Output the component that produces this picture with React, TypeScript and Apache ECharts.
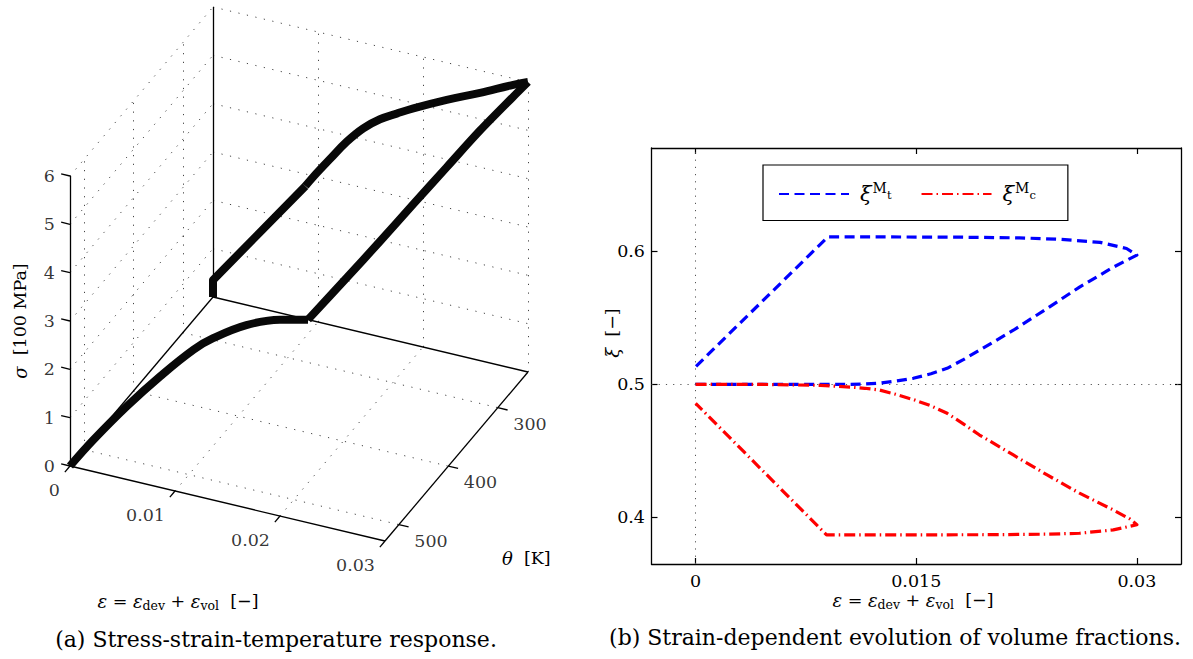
import { useEffect, useRef } from "react";
import * as echarts from "echarts";

// ---------- Panel (a): stress-strain-temperature box ----------
const strainRange = [0, 0.03];
const tempRange = [239, 528]; // back .. front of the box
const stressRange = [0, 6];
const strainTicks = [0, 0.01, 0.02, 0.03];
const tempTicks = [300, 400, 500];
const stressTicks = [0, 1, 2, 3, 4, 5, 6];

// Loading branch: strain [-], temperature [K], stress [100 MPa]
const loadStrain = [0, 0.00153, 0.00371, 0.0059, 0.00808, 0.00939, 0.01157, 0.01376, 0.0156, 0.01813, 0.0203, 0.02249, 0.02467, 0.02686, 0.02904, 0.03];
const loadTemp = [528, 513, 492, 471, 450, 438, 417, 396, 378, 353, 333, 311, 290, 269, 248, 239];
const loadStress = [0, 0.44, 0.99, 1.47, 1.88, 2.04, 2.17, 2.14, 2.02, 2.72, 3.33, 3.96, 4.58, 5.2, 5.76, 6.0];
const loadKink = 8; // onset of the hardening branch

// Unloading branch
const unloadStrain = [0.03, 0.0286, 0.02543, 0.02226, 0.01908, 0.0175, 0.0159, 0.01431, 0.01273, 0.01114, 0.00955, 0.0088, 0, 0];
const unloadTemp = [239, 239, 239, 239, 239, 239, 239, 239, 239, 239, 239, 239, 239, 239];
const unloadStress = [6.0, 5.87, 5.54, 5.23, 4.89, 4.7, 4.5, 4.23, 3.87, 3.43, 2.98, 2.75, 0.35, 0];
const unloadKink = 11; // start of the linear unloading branch

// ---------- Panel (b): volume fractions ----------
const mtStrain = [0, 0.004, 0.008, 0.0105, 0.0115, 0.0125, 0.0136, 0.0148, 0.016, 0.0171, 0.0182, 0.0193, 0.0216, 0.0239, 0.0261, 0.0284, 0.03, 0.0293, 0.0275, 0.0248, 0.022, 0.018, 0.0125, 0.009, 0];
const mtFrac = [0.5, 0.5, 0.5, 0.5, 0.5002, 0.5008, 0.5024, 0.5045, 0.5079, 0.512, 0.5185, 0.5256, 0.5406, 0.557, 0.573, 0.588, 0.597, 0.602, 0.6066, 0.6089, 0.61, 0.6105, 0.6107, 0.6108, 0.5132];
const mcStrain = [0, 0.004, 0.0085, 0.0107, 0.0115, 0.0125, 0.0136, 0.0148, 0.016, 0.0171, 0.0182, 0.0193, 0.0216, 0.0239, 0.0261, 0.0284, 0.0295, 0.03, 0.0284, 0.0261, 0.0239, 0.02, 0.015, 0.0089, 0];
const mcFrac = [0.5, 0.5, 0.4992, 0.4978, 0.497, 0.4957, 0.4925, 0.4885, 0.4838, 0.4782, 0.4703, 0.4619, 0.4469, 0.4319, 0.4182, 0.4056, 0.399, 0.3945, 0.3906, 0.3881, 0.3874, 0.387, 0.3869, 0.3869, 0.4857];
const fracStrainTicks = [0, 0.015, 0.03];
const fracTicks = [0.4, 0.5, 0.6];
const fracStrainRange = [-0.003, 0.033];
const fracRange = [0.365, 0.6775];

const FONT = "'DejaVu Serif', 'Liberation Serif', serif";
const TICK_SIZE = 17.5;

// Oblique view of the 3D box: origin and screen vectors of the three unit edges
const VIEW = { ox: 70, oy: 466, ex: 315, ey: 75, tx: 143, ty: -169, sz: 290 };

function project(eps: number, temp: number, sig: number): number[] {
  const e = (eps - strainRange[0]) / (strainRange[1] - strainRange[0]);
  const t = (tempRange[1] - temp) / (tempRange[1] - tempRange[0]);
  const s = (sig - stressRange[0]) / (stressRange[1] - stressRange[0]);
  return [VIEW.ox + e * VIEW.ex + t * VIEW.tx, VIEW.oy + e * VIEW.ey + t * VIEW.ty - s * VIEW.sz];
}

function pathPoints(eps: number[], temp: number[], sig: number[], from: number, to: number) {
  const pts: number[][] = [];
  for (let i = from; i <= to; i++) pts.push(project(eps[i], temp[i], sig[i]));
  return pts;
}

function buildOption() {
  const [e0, e1] = strainRange;
  const [tB, tF] = tempRange;
  const [s0, s1] = stressRange;
  const seg = (a: number[], b: number[]) => ({ coords: [a, b] });

  // dotted grid on the three back planes
  const dotted: any[] = [];
  stressTicks.filter((s) => s > s0).forEach((s) => {
    dotted.push(seg(project(e0, tF, s), project(e0, tB, s)));
    dotted.push(seg(project(e0, tB, s), project(e1, tB, s)));
  });
  tempTicks.forEach((t) => {
    dotted.push(seg(project(e0, t, s0), project(e0, t, s1)));
    dotted.push(seg(project(e0, t, s0), project(e1, t, s0)));
  });
  strainTicks.filter((e) => e > e0).forEach((e) => {
    dotted.push(seg(project(e, tB, s0), project(e, tB, s1)));
    if (e < e1) dotted.push(seg(project(e, tF, s0), project(e, tB, s0)));
  });

  // solid axes, back edges and ticks
  const solid: any[] = [
    seg(project(e0, tF, s0), project(e0, tF, s1)),
    seg(project(e0, tF, s0), project(e1, tF, s0)),
    seg(project(e1, tF, s0), project(e1, tB, s0)),
    seg(project(e0, tF, s0), project(e0, tB, s0)),
    seg(project(e0, tB, s0), project(e1, tB, s0)),
    seg(project(e0, tB, s0), project(e0, tB, s1)),
  ];
  stressTicks.forEach((s) => solid.push(seg(project(e0, tF, s), project(e0 - 0.028 * (e1 - e0), tF, s))));
  strainTicks.forEach((e) => solid.push(seg(project(e, tF, s0), project(e, tF + 0.036 * (tF - tB), s0))));
  tempTicks.forEach((t) => solid.push(seg(project(e1, t, s0), project(e1 + 0.031 * (e1 - e0), t, s0))));

  const responseCurve = (name: string, data: number[][], smooth: number) => ({
    type: "line",
    name,
    xAxisIndex: 0,
    yAxisIndex: 0,
    symbol: "none",
    silent: true,
    smooth,
    z: 3,
    lineStyle: { color: "#080808", width: 8, join: "round", cap: "butt" },
    data,
  });

  const tickLabelSeries = (items: { pos: number[]; text: string }[], offset: number[], align: string) => ({
    type: "scatter",
    xAxisIndex: 0,
    yAxisIndex: 0,
    symbolSize: 0.1,
    silent: true,
    itemStyle: { color: "rgba(0,0,0,0)" },
    z: 5,
    label: {
      show: true,
      position: "inside",
      offset,
      align,
      verticalAlign: "middle",
      fontFamily: FONT,
      fontSize: TICK_SIZE,
      color: "#000",
      formatter: (p: any) => p.data.text,
    },
    data: items.map((it) => ({ value: it.pos, text: it.text })),
  });

  const mathRich = {
    i: { fontStyle: "italic", fontFamily: FONT, fontSize: 18, fill: "#000", color: "#000" },
    sub: { fontFamily: FONT, fontSize: 12.5, padding: [8, 0, 0, 0], fill: "#000", color: "#000" },
  };
  const strainTitle = "{i|ε} = {i|ε}{sub|dev} + {i|ε}{sub|vol}  [−]";

  const textEl = (x: number, y: number, text: string, size: number, align = "center", rotation = 0) => ({
    type: "text",
    x,
    y,
    rotation,
    silent: true,
    style: {
      text,
      fontFamily: FONT,
      fontSize: size,
      fill: "#000",
      align,
      verticalAlign: "middle",
      rich: mathRich,
    },
  });

  const axisCommon = {
    axisLine: { show: true, onZero: false, lineStyle: { color: "#000", width: 1.3 } },
    splitLine: { show: false },
  };
  const tickStyle = { color: "#000", width: 1.2 };

  return {
    animation: false,
    backgroundColor: "#fff",
    grid: [
      { left: 0, top: 0, width: 600, height: 659 },
      { left: 651.5, top: 148, width: 529.5, height: 416 },
    ],
    xAxis: [
      { gridIndex: 0, type: "value", min: 0, max: 600, show: false },
      {
        gridIndex: 1,
        type: "value",
        position: "bottom",
        min: fracStrainRange[0],
        max: fracStrainRange[1],
        ...axisCommon,
        axisTick: { show: true, inside: true, length: 6, customValues: fracStrainTicks, lineStyle: tickStyle },
        axisLabel: { show: true, customValues: fracStrainTicks, margin: 8, formatter: (v: number) => String(v), fontFamily: FONT, fontSize: TICK_SIZE, color: "#000" },
      },
      {
        gridIndex: 1,
        type: "value",
        position: "top",
        min: fracStrainRange[0],
        max: fracStrainRange[1],
        ...axisCommon,
        axisTick: { show: true, inside: true, length: 6, customValues: fracStrainTicks, lineStyle: tickStyle },
        axisLabel: { show: false },
      },
    ],
    yAxis: [
      { gridIndex: 0, type: "value", min: 0, max: 659, inverse: true, show: false },
      {
        gridIndex: 1,
        type: "value",
        position: "left",
        min: fracRange[0],
        max: fracRange[1],
        ...axisCommon,
        axisTick: { show: true, inside: true, length: 6, customValues: fracTicks, lineStyle: tickStyle },
        axisLabel: { show: true, customValues: fracTicks, margin: 6.5, formatter: (v: number) => String(v), fontFamily: FONT, fontSize: TICK_SIZE, color: "#000" },
      },
      {
        gridIndex: 1,
        type: "value",
        position: "right",
        min: fracRange[0],
        max: fracRange[1],
        ...axisCommon,
        axisTick: { show: true, inside: true, length: 6, customValues: fracTicks, lineStyle: tickStyle },
        axisLabel: { show: false },
      },
    ],
    legend: {
      data: ["ξMt", "ξMc"],
      left: 763,
      top: 165,
      orient: "horizontal",
      itemWidth: 70,
      itemHeight: 14,
      itemGap: 29,
      padding: [16, 32, 16, 15],
      backgroundColor: "#fff",
      borderColor: "#000",
      borderWidth: 1.2,
      borderRadius: 0,
      selectedMode: false,
      itemStyle: { opacity: 0, borderWidth: 0 },
      formatter: (name: string) => (name === "ξMt" ? "{x|ξ}{s|M}{ss|t}" : "{x|ξ}{s|M}{ss|c}"),
      textStyle: {
        fontFamily: FONT,
        fontSize: 20,
        color: "#000",
        rich: {
          x: { fontFamily: FONT, fontSize: 21, fontStyle: "italic", color: "#000", padding: [0, 0, 0, 6] },
          s: { fontFamily: FONT, fontSize: 14, color: "#000", padding: [0, 0, 12, 1] },
          ss: { fontFamily: FONT, fontSize: 11.5, color: "#000", padding: [2, 0, 0, 0] },
        },
      },
    },
    series: [
      {
        type: "lines",
        coordinateSystem: "cartesian2d",
        xAxisIndex: 0,
        yAxisIndex: 0,
        silent: true,
        z: 1,
        data: dotted,
        lineStyle: { color: "#444", width: 1, type: [1.2, 7.5], opacity: 1 },
      },
      {
        type: "lines",
        coordinateSystem: "cartesian2d",
        xAxisIndex: 0,
        yAxisIndex: 0,
        silent: true,
        z: 2,
        data: solid,
        lineStyle: { color: "#000", width: 1.3, opacity: 1 },
      },
      responseCurve("loading", pathPoints(loadStrain, loadTemp, loadStress, 0, loadKink), 0.4),
      responseCurve("hardening", pathPoints(loadStrain, loadTemp, loadStress, loadKink, loadStrain.length - 1), 0.3),
      responseCurve("unloading", pathPoints(unloadStrain, unloadTemp, unloadStress, 0, unloadKink), 0.4),
      responseCurve("release", pathPoints(unloadStrain, unloadTemp, unloadStress, unloadKink, unloadStrain.length - 1), 0),
      tickLabelSeries(stressTicks.map((s) => ({ pos: project(e0, tF, s), text: String(s) })), [-15, 0], "right"),
      tickLabelSeries(strainTicks.map((e) => ({ pos: project(e, tF, s0), text: String(e) })), [-10, 24], "right"),
      tickLabelSeries(tempTicks.map((t) => ({ pos: project(e1, t, s0), text: String(t) })), [15.5, 16], "left"),
      {
        type: "line",
        name: "ξMt",
        xAxisIndex: 1,
        yAxisIndex: 1,
        symbol: "none",
        z: 4,
        lineStyle: { color: "#0000ff", width: 3.2, type: [10, 5.5], join: "round" },
        itemStyle: { color: "#0000ff" },
        data: mtStrain.map((e, i) => [e, mtFrac[i]]),
        markLine: {
          silent: true,
          symbol: ["none", "none"],
          label: { show: false },
          lineStyle: { color: "#555", width: 1, type: [1.2, 6] },
          data: [{ xAxis: 0 }, { yAxis: 0.5 }],
          z: 1,
        },
      },
      {
        type: "line",
        name: "ξMc",
        xAxisIndex: 1,
        yAxisIndex: 1,
        symbol: "none",
        z: 5,
        lineStyle: { color: "#ff0000", width: 3.2, type: [11, 4, 1.5, 4], join: "round" },
        itemStyle: { color: "#ff0000" },
        data: mcStrain.map((e, i) => [e, mcFrac[i]]),
      },
    ],
    graphic: [
      textEl(20, 321, "{i|σ}  [100 MPa]", 17.5, "center", Math.PI / 2),
      textEl(178, 601, strainTitle, 17.5),
      textEl(502, 558, "{i|θ}  [K]", 17.5, "left"),
      textEl(276, 639, "(a) Stress-strain-temperature response.", 22),
      textEl(612, 333, "{i|ξ}  [−]", 17.5, "center", Math.PI / 2),
      textEl(913, 600, strainTitle, 17.5),
      textEl(895, 637, "(b) Strain-dependent evolution of volume fractions.", 22),
    ],
  };
}

export default function App() {
  const ref = useRef<HTMLDivElement>(null);
  useEffect(() => {
    const chart = echarts.init(ref.current!, undefined, { renderer: "svg" });
    chart.setOption(buildOption() as any);
    return () => chart.dispose();
  }, []);
  return (
    <div
      ref={ref}
      style={{ position: "fixed", left: 0, top: 0, width: 1193, height: 659, background: "#fff" }}
    />
  );
}
